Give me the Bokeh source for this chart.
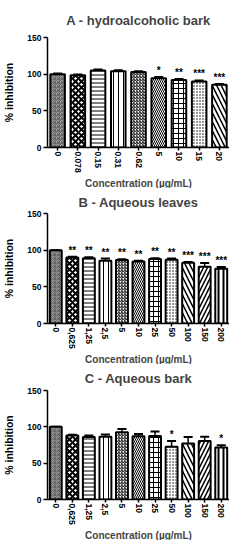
from bokeh.plotting import figure
from bokeh.models import FactorRange, Range1d, ColumnDataSource, Whisker, TeeHead, FixedTicker, Title
from bokeh.layouts import column
from bokeh.embed import file_html
from bokeh.resources import INLINE
from bokeh.core.properties import value

# ---- data ----
conc_a = ["0", "0.078", "0.15", "0.31", "0.62", "5", "10", "15", "20"]
inhib_a = [100, 98.5, 105, 104, 103, 94.5, 92, 90, 85.5]
err_a = [1, 1, 1.5, 1.5, 1, 1.5, 1.5, 1.5, 1]
sig_a = ["", "", "", "", "", "*", "**", "***", "***"]

conc_b = ["0", "0,625", "1,25", "2,5", "5", "10", "25", "50", "100", "150", "200"]
inhib_b = [100, 90, 89, 85.5, 86.5, 84.5, 88, 87, 83, 77.5, 74.5]
err_b = [0, 1, 1.5, 3, 1, 1, 1, 1.5, 1, 5, 2.5]
sig_b = ["", "**", "**", "**", "**", "**", "**", "**", "***", "***", "***"]

conc_c = ["0", "0,625", "1,25", "2,5", "5", "10", "25", "50", "100", "150", "200"]
inhib_c = [100, 88, 86, 86.5, 92.5, 87, 87.5, 72.5, 77, 80.5, 71.5]
err_c = [0, 1, 2, 3, 4.5, 3, 6, 8, 9, 6, 3]
sig_c = ["", "", "", "", "", "", "", "*", "", "", "*"]

y_ticks = [0, 50, 100, 150]
x_label = "Concentration (\u00b5g/mL)"
y_label = "% inhibition"

# ---- styles ----
STY = {
    "gray":   ("#a8a8a8", "criss_cross", 4, 1.0, "#606060"),
    "checker": ("white", "diagonal_cross", 6, 2.0, "black"),
    "hline":  ("white", "horizontal_line", 4, 1.0, "black"),
    "vline":  ("white", "vertical_line", 5, 1.0, "black"),
    "fr":     ("white", "right_diagonal_line", 3, 1.0, "black"),
    "fl":     ("white", "left_diagonal_line", 4, 1.0, "black"),
    "grid":   ("white", "cross", 5, 1.0, "black"),
    "dots":   ("white", "dot", 3, 1.5, "black"),
    "wl":     ("white", "left_diagonal_line", 9, 1.5, "black"),
    "wr":     ("white", "right_diagonal_line", 8, 1.5, "black"),
    "vthick": ("white", "vertical_line", 5, 2.0, "black"),
}
sty_a = ["gray", "checker", "hline", "vline", "fr", "fl", "grid", "dots", "wl"]
sty_bc = ["gray", "checker", "hline", "vline", "fr", "fl", "grid", "dots", "wl", "wr", "vthick"]

FONT = "Liberation Sans"


def panel(title, cats, vals, errs, sigs, styles, fh, standoff):
    p = figure(frame_width=182, frame_height=fh, x_range=FactorRange(*cats, range_padding=0),
               y_range=Range1d(0, 150), output_backend="svg", toolbar_location=None,
               min_border_left=47, min_border_right=0, min_border_top=0,
               min_border_bottom=0)
    src = ColumnDataSource(dict(
        x=cats, top=vals, up=[v + e for v, e in zip(vals, errs)], sig=sigs,
        fill=[STY[s][0] for s in styles], hp=[STY[s][1] for s in styles],
        hs=[STY[s][2] for s in styles], hw=[STY[s][3] for s in styles],
        hc=[STY[s][4] for s in styles]))
    p.vbar(x="x", top="top", width=0.72, source=src, fill_color="fill",
           hatch_pattern="hp", hatch_scale="hs", hatch_weight="hw", hatch_color="hc",
           line_color="black", line_width=2)
    w = Whisker(base="x", lower="top", upper="up", source=src, line_color="black",
                line_width=1.5, lower_head=None,
                upper_head=TeeHead(size=9, line_width=2, line_color="black"))
    p.add_layout(w)
    p.text(x="x", y="up", text="sig", source=src, text_align="center",
           text_baseline="bottom", y_offset=-1, text_font=value(FONT),
           text_font_size="10px", text_font_style="bold", text_color="#000000")
    p.title.text = title
    p.title.align = "center"
    p.title.text_font = FONT
    p.title.text_font_size = "13px"
    p.title.text_font_style = "bold"
    p.title.standoff = standoff
    xl = Title(text=x_label, align="center", text_font=FONT, text_font_size="10px",
               text_font_style="bold", standoff=0)
    p.add_layout(xl, "below")
    p.grid.visible = False
    p.outline_line_color = None
    p.background_fill_color = "white"
    p.border_fill_color = "white"
    for ax in (p.xaxis[0], p.yaxis[0]):
        ax.axis_line_width = 1.5
        ax.major_tick_line_width = 1.5
        ax.major_label_text_font = FONT
        ax.major_label_text_font_style = "bold"
        ax.major_label_text_font_size = "8.5px"
        ax.major_label_text_color = "black"
    p.yaxis.axis_label_text_font = FONT
    p.yaxis.axis_label_text_font_style = "bold"
    p.yaxis.axis_label_text_color = "black"
    p.yaxis.axis_label_text_font_size = "10.5px"
    p.yaxis.ticker = FixedTicker(ticks=y_ticks)
    p.yaxis.minor_tick_line_color = None
    p.yaxis.major_tick_out = 4
    p.yaxis.major_tick_in = 0
    p.yaxis.major_label_standoff = 2
    p.yaxis.axis_label = y_label
    p.yaxis.axis_label_standoff = 9
    p.xaxis.major_label_orientation = "vertical"
    p.xaxis.major_tick_out = 3
    p.xaxis.major_tick_in = 0
    p.xaxis.major_label_standoff = 1
    return p


pa = panel("A - hydroalcoholic bark", conc_a, inhib_a, err_a, sig_a, sty_a, 110, 20)
pb = panel("B - Aqueous leaves", conc_b, inhib_b, err_b, sig_b, sty_bc, 110, 8)
pc = panel("C - Aqueous bark", conc_c, inhib_c, err_c, sig_c, sty_bc, 109, 9)

layout = column(pa, pb, pc, spacing=0)
open("out.html", "w").write(file_html(layout, INLINE))
